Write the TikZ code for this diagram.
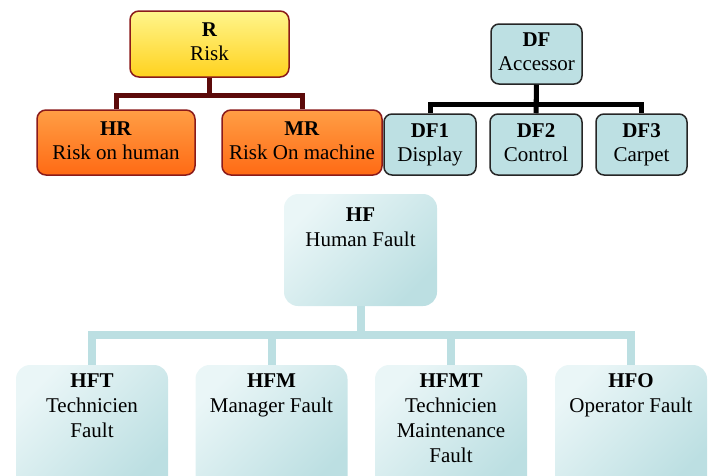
\documentclass[tikz,border=0pt]{standalone}
\usepackage{fontspec}
\setmainfont{Liberation Serif}
\definecolor{rborder}{HTML}{8B1A1A}
\definecolor{rline}{HTML}{5C0A0A}
\definecolor{ytop}{HTML}{FFF58C}
\definecolor{ybot}{HTML}{FFD21E}
\definecolor{otop}{HTML}{FF9E45}
\definecolor{obot}{HTML}{FF6A14}
\definecolor{dfill}{HTML}{BDE0E3}
\definecolor{lblue}{HTML}{BCDFE2}
\definecolor{llight}{HTML}{EAF6F7}
\begin{document}
\begin{tikzpicture}[x=1pt,y=-1pt,
  toptext/.style={font=\fontsize{21}{24}\selectfont, align=center},
  lowtext/.style={font=\fontsize{21}{25}\selectfont, align=center, anchor=north, inner sep=0pt},
  rbox/.style={toptext, draw=rborder, line width=1.5pt, rounded corners=9pt, inner sep=0pt},
  ybox/.style={rbox, top color=ytop, bottom color=ybot},
  obox/.style={rbox, top color=otop, bottom color=obot},
  dbox/.style={toptext, draw=black!85, line width=1.5pt, fill=dfill, rounded corners=8pt, inner sep=0pt},
  hbox/.style={rounded corners=14pt, top color=llight, bottom color=lblue, shading angle=45, inner sep=0pt},
  rconn/.style={draw=rline, line width=5pt},
  dconn/.style={draw=black, line width=5pt},
  hconn/.style={draw=lblue, line width=8pt}]
\useasboundingbox (0,0) rectangle (710,475);
% top-left group
\node[ybox, minimum width=159pt, minimum height=66pt] (R) at (209.5,44) {\strut\textbf{R}\\\strut Risk};
\node[obox, minimum width=158pt, minimum height=65pt] (HR) at (116,142.5) {\strut\textbf{HR}\\\strut Risk on human};
\node[obox, minimum width=160pt, minimum height=65pt] (MR) at (302,142.5) {\strut\textbf{MR}\\\strut Risk On machine};
\draw[rconn] (R.south) -- ++(0,18) -| (HR.north);
\draw[rconn] (R.south) -- ++(0,18) -| (MR.north);
% top-right group
\node[dbox, minimum width=91pt, minimum height=60pt] (DF) at (536.5,54) {\strut\textbf{DF}\\\strut Accessor};
\node[dbox, minimum width=92pt, minimum height=61pt] (DF1) at (430,144.5) {\strut\textbf{DF1}\\\strut Display};
\node[dbox, minimum width=92pt, minimum height=61pt] (DF2) at (536,144.5) {\strut\textbf{DF2}\\\strut Control};
\node[dbox, minimum width=91pt, minimum height=61pt] (DF3) at (641.5,144.5) {\strut\textbf{DF3}\\\strut Carpet};
\draw[dconn] (DF.south) -- ++(0,20) -| (DF1.north);
\draw[dconn] (DF.south) -- (DF2.north);
\draw[dconn] (DF.south) -- ++(0,20) -| (DF3.north);
% lower group
\node[hbox, minimum width=153pt, minimum height=112pt] (HF) at (360.5,250) {};
\node[hbox, minimum width=152pt, minimum height=125pt] (HFT) at (92,427.5) {};
\node[hbox, minimum width=152pt, minimum height=125pt] (HFM) at (271.5,427.5) {};
\node[hbox, minimum width=152pt, minimum height=125pt] (HFMT) at (451,427.5) {};
\node[hbox, minimum width=152pt, minimum height=125pt] (HFO) at (631,427.5) {};
\draw[hconn] (HF.south) -- ++(0,29) -| (HFT.north);
\draw[hconn] (HF.south) -- ++(0,29) -| (HFM.north);
\draw[hconn] (HF.south) -- ++(0,29) -| (HFMT.north);
\draw[hconn] (HF.south) -- ++(0,29) -| (HFO.north);
\node[lowtext] (HFtx) at ([yshift=-14pt]HF.north) {\textbf{HF}\\Human Fault};
\node[lowtext] (HFTtx) at ([yshift=-9pt]HFT.north) {\textbf{HFT}\\Technicien\\Fault};
\node[lowtext] (HFMtx) at ([yshift=-9pt]HFM.north) {\textbf{HFM}\\Manager Fault};
\node[lowtext] (HFMTtx) at ([yshift=-9pt]HFMT.north) {\textbf{HFMT}\\Technicien\\Maintenance\\Fault};
\node[lowtext] (HFOtx) at ([yshift=-9pt]HFO.north) {\textbf{HFO}\\Operator Fault};
\end{tikzpicture}
\end{document}
